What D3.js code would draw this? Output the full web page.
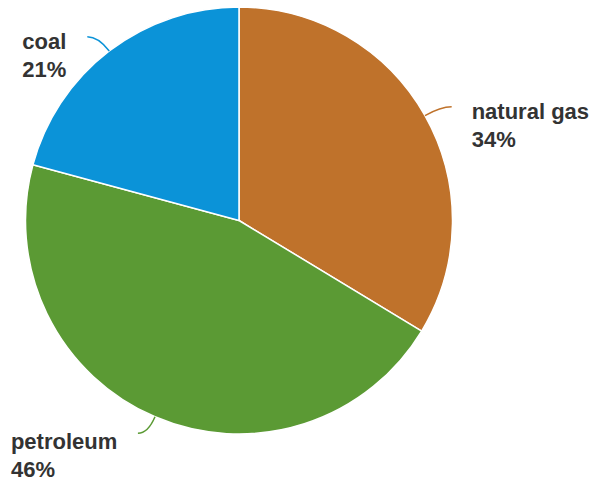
<!DOCTYPE html>
<html>
<head>
<meta charset="utf-8">
<script src="https://cdn.jsdelivr.net/npm/d3@7"></script>
<style>
  html, body { margin: 0; padding: 0; background: #fff; }
  svg { display: block; }
  .lbl { font-family: "Liberation Sans", Arial, sans-serif; font-weight: bold; font-size: 22px; fill: #333; }
</style>
</head>
<body>
<svg id="chart" width="592" height="481"></svg>
<script>
// Energy sources, share of total (percent)
const categories = ["natural gas", "petroleum", "coal"];
const shares = [34, 46, 21];
const colors = ["#bf722b", "#5b9a34", "#0b93d8"];

const width = 592, height = 481;
const cx = 239, cy = 220.5, radius = 213.5;

// label placement relative to the end of each leader line
const labelLayout = {
  "natural gas": { dx: 20, dy: 12.5 },
  "petroleum":   { dx: -127, dy: 15.5 },
  "coal":        { dx: -65, dy: 12 }
};
const lineGap = 28;
const leaderOut = 18;
const leaderTail = { "natural gas": 11, "petroleum": -10, "coal": -11 };

const svg = d3.select("#chart");
const g = svg.append("g").attr("transform", `translate(${cx},${cy})`);

const data = categories.map((c, i) => ({ name: c, value: shares[i], color: colors[i] }));

const pie = d3.pie().value(d => d.value).sort(null);
const arc = d3.arc().innerRadius(0).outerRadius(radius);
const arcs = pie(data);

g.selectAll("path.slice")
  .data(arcs)
  .join("path")
  .attr("class", "slice")
  .attr("d", arc)
  .attr("fill", d => d.data.color)
  .attr("stroke", "#fff")
  .attr("stroke-width", 1.5)
  .attr("stroke-linejoin", "round");

// curved leader lines from the middle of each arc
arcs.forEach(d => {
  const a = (d.startAngle + d.endAngle) / 2;
  const sx = Math.sin(a), sy = -Math.cos(a);
  const p0 = [sx * radius, sy * radius];
  const p1 = [sx * (radius + leaderOut), sy * (radius + leaderOut)];
  const p2 = [p1[0] + leaderTail[d.data.name], p1[1]];
  const path = d3.path();
  path.moveTo(p0[0], p0[1]);
  path.quadraticCurveTo(p1[0], p1[1], p2[0], p2[1]);
  g.append("path")
    .attr("d", path.toString())
    .attr("fill", "none")
    .attr("stroke", d.data.color)
    .attr("stroke-width", 1.5);

  const L = labelLayout[d.data.name];
  const x = p2[0] + L.dx;
  const t = g.append("text")
    .attr("class", "lbl")
    .attr("x", x)
    .attr("y", p2[1] + L.dy);
  t.append("tspan").attr("x", x).text(d.data.name);
  t.append("tspan").attr("x", x).attr("dy", lineGap).text(d.data.value + "%");
});
</script>
</body>
</html>
